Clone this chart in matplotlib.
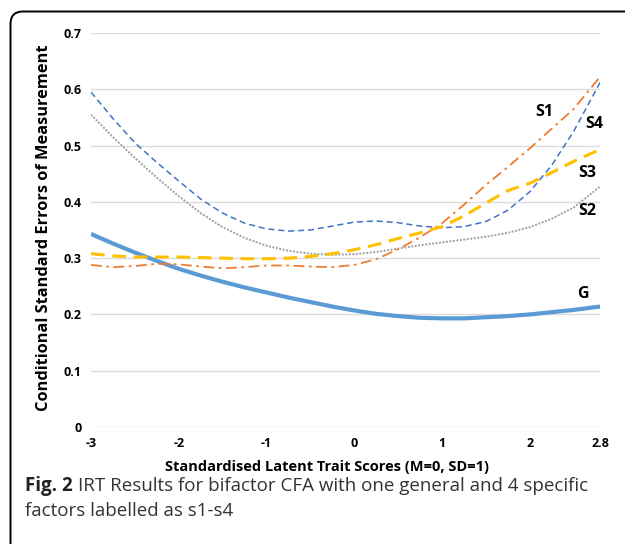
import numpy as np
import matplotlib
matplotlib.use("Agg")
import matplotlib.pyplot as plt
from matplotlib.path import Path
from matplotlib.patches import PathPatch

plt.rcParams['font.family'] = ['Open Sans', 'DejaVu Sans']

# latent trait scores
theta = [-3, -2.75, -2.5, -2.25, -2, -1.75, -1.5, -1.25, -1, -0.75, -0.5, -0.25,
         0, 0.25, 0.5, 0.75, 1, 1.25, 1.5, 1.75, 2, 2.25, 2.5, 2.8]

# conditional standard errors
se_g = [0.343, 0.326, 0.310, 0.295, 0.281, 0.269, 0.258, 0.248, 0.239, 0.230, 0.222, 0.214,
        0.207, 0.201, 0.197, 0.194, 0.193, 0.193, 0.195, 0.197, 0.200, 0.204, 0.208, 0.214]
se_s1 = [0.288, 0.284, 0.286, 0.290, 0.289, 0.285, 0.282, 0.284, 0.287, 0.287, 0.285, 0.284,
         0.288, 0.298, 0.316, 0.337, 0.362, 0.395, 0.430, 0.462, 0.495, 0.530, 0.565, 0.622]
se_s2 = [0.555, 0.515, 0.478, 0.443, 0.410, 0.380, 0.355, 0.336, 0.322, 0.313, 0.308, 0.306,
         0.307, 0.311, 0.317, 0.323, 0.328, 0.333, 0.338, 0.345, 0.355, 0.370, 0.390, 0.427]
se_s3 = [0.308, 0.304, 0.302, 0.302, 0.302, 0.301, 0.300, 0.299, 0.299, 0.300, 0.303, 0.308,
         0.315, 0.324, 0.335, 0.345, 0.356, 0.375, 0.398, 0.420, 0.433, 0.452, 0.472, 0.493]
se_s4 = [0.595, 0.548, 0.505, 0.470, 0.437, 0.405, 0.380, 0.362, 0.352, 0.348, 0.350, 0.357,
         0.364, 0.366, 0.363, 0.357, 0.354, 0.356, 0.365, 0.385, 0.418, 0.465, 0.525, 0.612]

xticks = [-3, -2, -1, 0, 1, 2, 2.8]
xtick_labels = ['-3', '-2', '-1', '0', '1', '2', '2.8']
yticks = [0, 0.1, 0.2, 0.3, 0.4, 0.5, 0.6, 0.7]
ytick_labels = ['0', '0.1', '0.2', '0.3', '0.4', '0.5', '0.6', '0.7']

W, H = 625, 544
fig = plt.figure(figsize=(W / 100, H / 100), dpi=100)

# frame with rounded top-left corner (pixel coordinates)
bg = fig.add_axes([0, 0, 1, 1])
bg.set_xlim(0, W)
bg.set_ylim(H, 0)
bg.axis('off')
verts = [(10.5, H + 5), (10.5, 24), (10.5, 11.5), (23, 11.5), (W + 5, 11.5)]
codes = [Path.MOVETO, Path.LINETO, Path.CURVE3, Path.CURVE3, Path.LINETO]
bg.add_patch(PathPatch(Path(verts, codes), facecolor='none', edgecolor='black', lw=1.4))

# chart area
ax = fig.add_axes([91 / W, (H - 427) / H, (600 - 91) / W, (427 - 33) / H])
ax.set_xlim(-3, 2.8)
ax.set_ylim(0, 0.7)
for s in ax.spines.values():
    s.set_visible(False)
ax.set_yticks(yticks)
ax.set_yticklabels(ytick_labels)
ax.set_xticks(xticks)
ax.set_xticklabels(xtick_labels)
ax.tick_params(length=0, labelsize=9, pad=7)
for t in ax.get_xticklabels() + ax.get_yticklabels():
    t.set_fontweight('bold')
ax.grid(axis='y', color='#dcdcdc', lw=1)
ax.set_axisbelow(True)

ax.plot(theta, se_g, color='#5b9bd5', lw=3.0, solid_capstyle='butt')
ax.plot(theta, se_s2, color='#a0a0a0', lw=1.4, linestyle=(0, (1, 0.8)))
ax.plot(theta, se_s4, color='#4472c4', lw=1.1, linestyle=(0, (4, 2.5)))
ax.plot(theta, se_s1, color='#ed7d31', lw=1.3, linestyle=(0, (6, 2.5, 1.5, 2.5)))
ax.plot(theta, se_s3, color='#ffc000', lw=2.2, linestyle=(0, (4.5, 2.5)))

lab_kw = dict(fontsize=11.5, fontweight='bold', ha='center', va='center')
ax.text(2.17, 0.56, 'S1', **lab_kw)
ax.text(2.73, 0.538, 'S4', **lab_kw)
ax.text(2.65, 0.452, 'S3', **lab_kw)
ax.text(2.65, 0.383, 'S2', **lab_kw)
ax.text(2.61, 0.236, 'G', **lab_kw)

fig.text(327 / W, 1 - 467 / H, 'Standardised Latent Trait Scores (M=0, SD=1)',
         fontsize=10.5, fontweight='bold', ha='center', va='center')
fig.text(44 / W, 1 - 228 / H, 'Conditional Standard Errors of Measurement',
         fontsize=11.8, fontweight='bold', ha='center', va='center', rotation=90)

# caption
cap1 = fig.text(25 / W, 1 - 486 / H, 'Fig. 2', fontsize=13.5, fontweight='bold',
                ha='left', va='center', color='#222222')
fig.canvas.draw()
bb = cap1.get_window_extent()
fig.text(bb.x1 / W + 5 / W, 1 - 486 / H,
         'IRT Results for bifactor CFA with one general and 4 specific',
         fontsize=13.5, ha='left', va='center', color='#333333')
fig.text(25 / W, 1 - 511 / H, 'factors labelled as s1-s4',
         fontsize=13.5, ha='left', va='center', color='#333333')

fig.savefig('out.png', dpi=100)
